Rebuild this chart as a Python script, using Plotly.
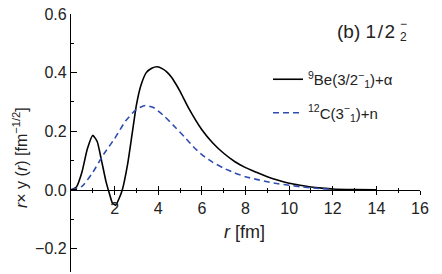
import plotly.graph_objects as go

# Data
r_be = [0, 0.25, 0.5, 0.75, 1.0, 1.2, 1.4, 1.6, 1.75, 1.9, 2.05, 2.2, 2.35, 2.6, 2.8, 3.0, 3.2, 3.45,
        3.7, 3.95, 4.2, 4.4, 4.6, 4.8, 5.0, 5.2, 5.4, 6.0, 6.5, 7.0, 7.5, 8.0, 8.5, 9.0, 9.5, 10.0,
        10.5, 11.0, 11.5, 12.0, 13.0, 14.0]
v_be = [0, 0.01, 0.06, 0.14, 0.186, 0.165, 0.10, 0.03, -0.01, -0.045, -0.052, -0.03, 0.0, 0.09, 0.19,
        0.29, 0.355, 0.40, 0.415, 0.42, 0.413, 0.402, 0.385, 0.362, 0.336, 0.307, 0.278, 0.205, 0.16,
        0.125, 0.097, 0.076, 0.06, 0.045, 0.033, 0.023, 0.016, 0.01, 0.006, 0.003, 0.001, 0.0]

r_c = [0, 0.5, 1.0, 1.5, 2.0, 2.5, 3.0, 3.4, 3.8, 4.3, 4.8, 5.2, 5.6, 6.0, 6.5, 7.0, 7.5, 8.0, 8.5,
       9.0, 9.5, 10.0, 10.5, 11.0, 11.5, 12.0]
v_c = [0, 0.012, 0.06, 0.122, 0.175, 0.235, 0.275, 0.288, 0.28, 0.25, 0.212, 0.181, 0.148, 0.12,
       0.094, 0.074, 0.058, 0.045, 0.036, 0.028, 0.021, 0.016, 0.011, 0.007, 0.004, 0.002]

x_major = [2, 4, 6, 8, 10, 12, 14, 16]
x_minor = [1, 3, 5, 7, 9, 11, 13, 15]
y_major = [-0.2, 0.0, 0.2, 0.4, 0.6]
y_labels = ["\u22120.2", "0.0", "0.2", "0.4", "0.6"]
y_minor = [-0.1, 0.1, 0.3, 0.5]

name_be = "<sup>9</sup>Be(3/2<sup>\u2212</sup><sub>1</sub>)+\u03b1"
name_c = "<sup>12</sup>C(3<sup>\u2212</sup><sub>1</sub>)+n"

FONT = "Liberation Sans, Arial, sans-serif"
BLUE = "#2f4db0"

# body margin is removed in the page (post_script), so figure = viewport
W, H = 442, 274
ML, MR, MT, MB = 71, 22, 14, 2


def px(xp, yp):
    """viewport pixel -> paper coords"""
    return (xp - ML) / (W - ML - MR), 1 - (yp - MT) / (H - MT - MB)


fig = go.Figure()
fig.add_trace(go.Scatter(x=r_be, y=v_be, mode="lines", name=name_be,
                         line=dict(color="black", width=1.6, shape="spline", smoothing=0.5),
                         legendgroup="a"))
fig.add_trace(go.Scatter(x=r_c, y=v_c, mode="lines", name=name_c,
                         line=dict(color=BLUE, width=1.6, dash="6px,4px", shape="spline", smoothing=0.5),
                         legendgroup="b"))
# invisible trace to hold the overlay axis
fig.add_trace(go.Scatter(x=[0, 16], y=[0, 0], xaxis="x2", mode="lines",
                         line=dict(width=0), showlegend=False, hoverinfo="skip"))

ymin, ymax = -0.28, 0.6
pos0 = (0 - ymin) / (ymax - ymin)

lgx, lgy = px(268, 96)

fig.update_layout(
    width=W, height=H,
    margin=dict(l=ML, r=MR, t=MT, b=MB, autoexpand=False),
    paper_bgcolor="white", plot_bgcolor="white",
    font=dict(family=FONT, size=16, color="#222"),
    showlegend=True,
    legend=dict(x=lgx, y=lgy, xanchor="left", yanchor="middle",
                bgcolor="rgba(0,0,0,0)", font=dict(size=15), tracegroupgap=11),
    xaxis=dict(range=[0, 16], anchor="free", position=pos0, showline=True, linecolor="black",
               linewidth=1.2, showgrid=False, zeroline=False, automargin=False,
               ticklabeloverflow="allow",
               tickmode="array", tickvals=x_major, ticks="outside", ticklen=4, tickcolor="black",
               tickwidth=1.2,
               minor=dict(tickmode="array", tickvals=x_minor, ticks="outside", ticklen=2,
                          tickcolor="black", tickwidth=1.2),
               tickfont=dict(size=16)),
    xaxis2=dict(range=[0, 16], overlaying="x", anchor="free", position=pos0, showline=False,
                showgrid=False, zeroline=False, showticklabels=False, automargin=False,
                tickmode="array", tickvals=x_major, ticks="inside", ticklen=4, tickcolor="black",
                tickwidth=1.2,
                minor=dict(tickmode="array", tickvals=x_minor, ticks="inside", ticklen=2,
                           tickcolor="black", tickwidth=1.2)),
    yaxis=dict(range=[ymin, ymax], showline=True, linecolor="black", linewidth=1.2,
               showgrid=False, zeroline=False, automargin=False,
               ticklabeloverflow="allow",
               tickmode="array", tickvals=y_major, ticktext=y_labels, ticks="inside", ticklen=6,
               tickcolor="black", tickwidth=1.2,
               minor=dict(tickmode="array", tickvals=y_minor, ticks="inside", ticklen=3,
                          tickcolor="black", tickwidth=1.2),
               tickfont=dict(size=16)),
)

ax, ay = px(244, 232)
fig.add_annotation(text="<i>r</i> [fm]", x=ax, y=ay, xref="paper", yref="paper",
                   xanchor="center", yanchor="middle", showarrow=False, font=dict(size=18))

lx, ly = px(20, 157)
fig.add_annotation(text="<i>r</i>\u00d7 y (<i>r</i>) [fm<sup>\u22121/2</sup>]", x=lx, y=ly,
                   xref="paper", yref="paper", xanchor="center", yanchor="middle",
                   showarrow=False, textangle=-90, font=dict(size=16))

tx, ty = px(397, 31)
fig.add_annotation(text="(b) 1\u200a/\u200a2", x=tx, y=ty, xref="paper", yref="paper",
                   showarrow=False, xanchor="right", yanchor="middle", font=dict(size=19))
sx, sy = px(398, 24)
fig.add_annotation(text="\u2212", x=sx, y=sy, xref="paper", yref="paper", showarrow=False,
                   xanchor="left", yanchor="middle", font=dict(size=12))
bx, by = px(398, 37)
fig.add_annotation(text="2", x=bx, y=by, xref="paper", yref="paper", showarrow=False,
                   xanchor="left", yanchor="middle", font=dict(size=12))

fig.write_html("out.html", config={"displayModeBar": False},
               post_script="document.body.style.margin='0px';document.body.style.overflow='hidden';")
